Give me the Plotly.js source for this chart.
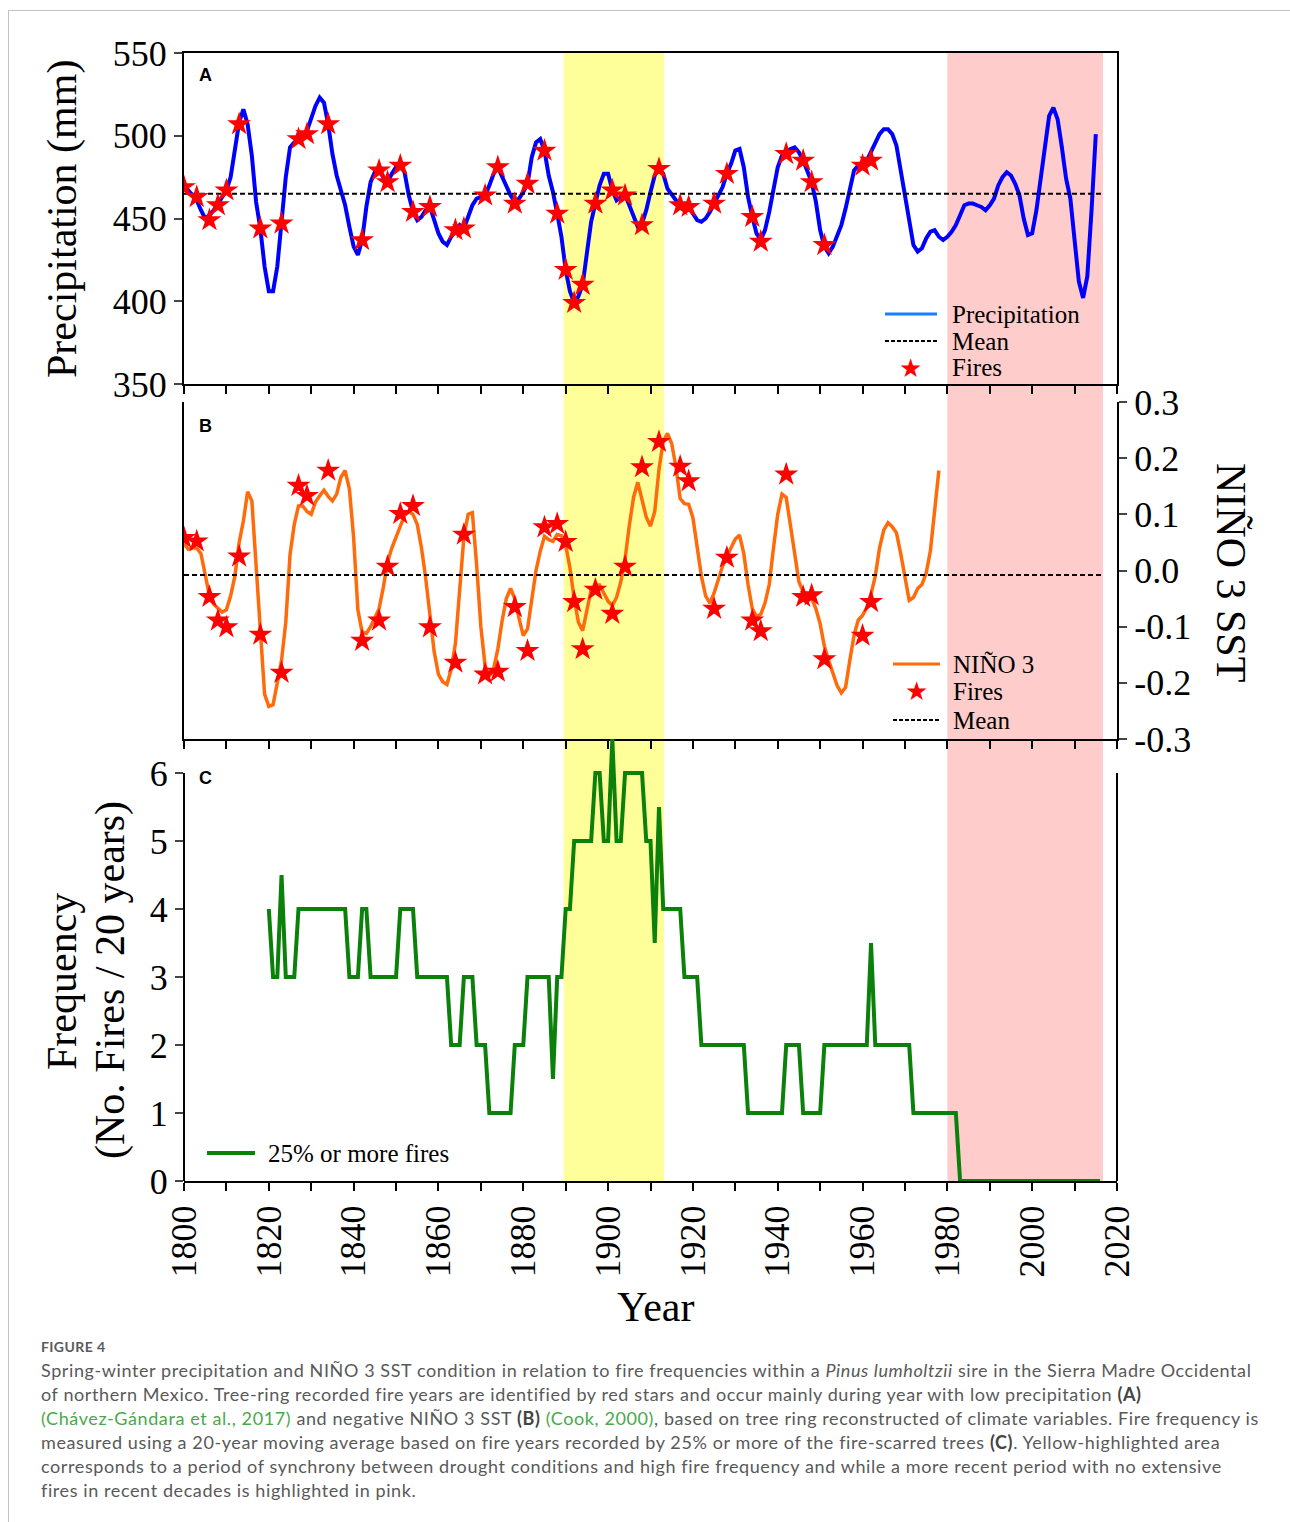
<!DOCTYPE html>
<html>
<head>
<meta charset="utf-8">
<script src="https://cdn.plot.ly/plotly-3.0.1.min.js"></script>
<style>
  body { margin:0; background:#fff; width:1290px; height:1522px; position:relative; overflow:hidden; }
  #frame { position:absolute; left:8px; top:10px; width:1290px; height:1530px; border-left:1px solid #c4c4c4; border-top:1px solid #c4c4c4; }
  #chart { position:absolute; left:0; top:0; width:1290px; height:1340px; }
  #cap { position:absolute; left:41px; top:1336px; font-family:Lato, "Noto Sans", sans-serif; color:#595959; white-space:nowrap; }
  #cap .fig { font-size:14px; font-weight:700; letter-spacing:0.4px; height:22px; line-height:22px; color:#5a5a5a; }
  #cap .txt { font-size:18px; line-height:24px; letter-spacing:0.6px; }
  #cap .g { color:#4aa84a; }
  #cap b { font-weight:700; color:#444; }
</style>
</head>
<body>
<div id="frame"></div>
<div id="chart"></div>
<div id="cap">
  <div class="fig">FIGURE 4</div>
  <div class="txt">
    Spring-winter precipitation and NIÑO 3 SST condition in relation to fire frequencies within a <i>Pinus lumholtzii</i> sire in the Sierra Madre Occidental<br>
    of northern Mexico. Tree-ring recorded fire years are identified by red stars and occur mainly during year with low precipitation <b>(A)</b><br>
    <span class="g">(Chávez-Gándara et al., 2017)</span> and negative NIÑO 3 SST <b>(B)</b> <span class="g">(Cook, 2000)</span>, based on tree ring reconstructed of climate variables. Fire frequency is<br>
    measured using a 20-year moving average based on fire years recorded by 25% or more of the fire-scarred trees <b>(C)</b>. Yellow-highlighted area<br>
    corresponds to a period of synchrony between drought conditions and high fire frequency and while a more recent period with no extensive<br>
    fires in recent decades is highlighted in pink.
  </div>
</div>
<script>
// ---------------- DATA ----------------
const precipStart = 1800;
const precipValues = [
  470,467,464,461,455,450,452,455,459,463,
  467,475,492,508,516,507,488,460,444,421,
  406,406,421,447,475,493,496,498,500,503,
  511,518,523,520,507,489,476,466,458,445,
  433,428,437,457,472,478,479,475,472,477,
  481,482,478,464,454,449,451,455,457,449,
  441,436,434,439,443,446,444,451,458,462,
  463,464,470,477,481,475,469,464,460,462,
  466,471,487,496,498,491,476,466,453,439,
  419,406,399,403,410,428,448,459,470,477,
  477,467,461,463,464,458,452,445,447,455,
  466,476,480,477,468,464,461,458,457,457,
  453,449,448,450,454,459,464,469,477,483,
  491,492,481,463,451,441,437,443,454,469,
  481,488,490,492,493,490,485,479,472,460,
  443,433,429,433,439,446,456,468,479,482,
  484,485,490,495,501,504,504,501,494,479,
  463,447,434,430,432,438,442,443,439,437,
  439,442,446,452,458,459,459,458,457,455,
  458,462,470,475,478,476,471,464,450,440,
  441,455,475,496,512,517,510,493,474,462,
  438,412,402,415,455,501
];
const precipMean = 465;

const ninoStart = 1800;
const ninoValues = [
  0.048,0.038,0.040,0.040,0.030,-0.010,-0.045,-0.060,-0.068,-0.074,
  -0.070,-0.045,-0.010,0.050,0.088,0.140,0.124,0.010,-0.110,-0.220,
  -0.242,-0.239,-0.200,-0.160,-0.092,0.028,0.082,0.115,0.115,0.105,
  0.100,0.122,0.133,0.143,0.132,0.124,0.136,0.166,0.178,0.145,
  0.058,-0.070,-0.110,-0.112,-0.100,-0.085,-0.068,-0.030,0.015,0.040,
  0.060,0.080,0.098,0.105,0.100,0.082,0.040,-0.014,-0.080,-0.145,
  -0.185,-0.198,-0.203,-0.176,-0.130,-0.040,0.060,0.100,0.103,0.010,
  -0.100,-0.170,-0.188,-0.175,-0.140,-0.090,-0.050,-0.032,-0.050,-0.085,
  -0.116,-0.104,-0.055,0.000,0.034,0.061,0.055,0.052,0.064,0.062,
  0.045,0.005,-0.050,-0.092,-0.107,-0.070,-0.035,-0.026,-0.026,-0.040,
  -0.055,-0.062,-0.048,-0.020,0.020,0.080,0.130,0.157,0.125,0.095,
  0.079,0.105,0.180,0.230,0.244,0.226,0.184,0.128,0.119,0.118,
  0.094,0.046,-0.010,-0.045,-0.058,-0.040,-0.015,0.008,0.025,0.042,
  0.056,0.063,0.030,-0.025,-0.068,-0.082,-0.078,-0.058,-0.025,0.040,
  0.100,0.136,0.130,0.080,0.030,-0.020,-0.038,-0.042,-0.050,-0.068,
  -0.095,-0.135,-0.160,-0.185,-0.205,-0.218,-0.208,-0.160,-0.115,-0.088,
  -0.080,-0.066,-0.042,-0.010,0.040,0.072,0.085,0.078,0.067,0.030,
  -0.010,-0.053,-0.048,-0.032,-0.025,-0.005,0.035,0.100,0.178
];
const ninoMean = -0.008;
const meanSpan = [1800, 2016.5];

const fireYears = [1800,1803,1806,1808,1810,1813,1818,1823,1827,1829,1834,1842,1846,1848,1851,1854,1858,1864,1866,1871,1874,1878,1881,1885,1888,1890,1892,1894,1897,1901,1904,1908,1912,1917,1919,1925,1928,1934,1936,1942,1946,1948,1951,1960,1962];
const firePrecip = [469,463,449,458,467,507,444,447,498,501,507,437,479,472,482,454,457,443,444,464,481,459,471,491,453,419,399,410,459,467,464,446,480,458,457,459,477,451,436,489,485,472,434,482,485];
const fireNino = [0.058,0.052,-0.047,-0.089,-0.101,0.025,-0.114,-0.182,0.151,0.133,0.178,-0.125,-0.089,0.007,0.101,0.115,-0.101,-0.164,0.064,-0.185,-0.180,-0.065,-0.143,0.077,0.083,0.051,-0.056,-0.140,-0.034,-0.077,0.007,0.184,0.229,0.185,0.159,-0.068,0.023,-0.089,-0.108,0.171,-0.047,-0.044,-0.158,-0.116,-0.056];

const freqStart = 1820;
const freqValues = [
  4,3,3,4.5,3,3,3,4,4,4,
  4,4,4,4,4,4,4,4,4,3,
  3,3,4,4,3,3,3,3,3,3,
  3,4,4,4,4,3,3,3,3,3,
  3,3,3,2,2,2,3,3,3,2,
  2,2,1,1,1,1,1,1,2,2,
  2,3,3,3,3,3,3,1.5,3,3,
  4,4,5,5,5,5,5,6,6,5,
  5,6.5,5,5,6,6,6,6,6,5,
  5,3.5,5.5,4,4,4,4,4,3,3,
  3,3,2,2,2,2,2,2,2,2,
  2,2,2,1,1,1,1,1,1,1,
  1,1,2,2,2,2,1,1,1,1,
  1,2,2,2,2,2,2,2,2,2,
  2,2,3.5,2,2,2,2,2,2,2,
  2,2,1,1,1,1,1,1,1,1,
  1,1,1,0,0,0,0,0,0,0,
  0,0,0,0,0,0,0,0,0,0,
  0,0,0,0,0,0,0,0,0,0,
  0,0,0,0,0,0,0
];

const highlightYellow = [1889.5, 1913.2];
const highlightPink = [1980, 2016.7];

const xTickYears = [1800,1810,1820,1830,1840,1850,1860,1870,1880,1890,1900,1910,1920,1930,1940,1950,1960,1970,1980,1990,2000,2010,2020];
const xTickLabels = ['1800','','1820','','1840','','1860','','1880','','1900','','1920','','1940','','1960','','1980','','2000','','2020'];
const precipTicks = [350,400,450,500,550];
const ninoTicks = [-0.3,-0.2,-0.1,0,0.1,0.2,0.3];
const ninoTickLabels = ['-0.3','-0.2','-0.1','0.0','0.1','0.2','0.3'];
const freqTicks = [0,1,2,3,4,5,6];

// ---------------- BUILD ----------------
const yearsFrom = (start, arr) => arr.map((_, i) => start + i);
const precipYears = yearsFrom(precipStart, precipValues);
const ninoYears = yearsFrom(ninoStart, ninoValues);
const freqYears = yearsFrom(freqStart, freqValues);

const SERIF = 'Liberation Serif, Times New Roman, serif';
const SANS = 'Liberation Sans, Arial, sans-serif';
const L = 184, R = 1117, T = 53, B = 1181, W = 1290, H = 1340;
const fx = x => (x - L) / (R - L);
const fy = y => (B - y) / (B - T);

const BLUE = '#0000ff', ORANGE = '#ff6a0a', GREEN = '#0b800b', RED = '#ff0000';

const traces = [
  {x: precipYears, y: precipValues, xaxis:'x', yaxis:'y', mode:'lines', line:{color:BLUE, width:4}, hoverinfo:'skip'},
  {x: meanSpan, y: [precipMean, precipMean], xaxis:'x', yaxis:'y', mode:'lines', line:{color:'#000', width:2, dash:'5px,3px'}, hoverinfo:'skip'},
  {x: fireYears, y: firePrecip, xaxis:'x', yaxis:'y', mode:'markers', marker:{symbol:'star', size:18, color:RED, line:{width:0}}, hoverinfo:'skip'},
  {x: ninoYears, y: ninoValues, xaxis:'x2', yaxis:'y2', mode:'lines', line:{color:ORANGE, width:3.5}, hoverinfo:'skip'},
  {x: meanSpan, y: [ninoMean, ninoMean], xaxis:'x2', yaxis:'y2', mode:'lines', line:{color:'#000', width:2, dash:'5px,3px'}, hoverinfo:'skip'},
  {x: fireYears, y: fireNino, xaxis:'x2', yaxis:'y2', mode:'markers', marker:{symbol:'star', size:18, color:RED, line:{width:0}}, hoverinfo:'skip'},
  {x: freqYears, y: freqValues, xaxis:'x3', yaxis:'y3', mode:'lines', line:{color:GREEN, width:4}, hoverinfo:'skip'}
];

const xBase = {range:[1800,2020], tickvals:xTickYears, ticks:'outside', ticklen:8, tickwidth:2, tickcolor:'#000',
  showline:true, linewidth:2, linecolor:'#000', showgrid:false, zeroline:false, fixedrange:true};

const layout = {
  width: W, height: H,
  margin: {l:L, r:W-R, t:T, b:H-B, pad:0},
  paper_bgcolor:'rgba(0,0,0,0)', plot_bgcolor:'rgba(0,0,0,0)',
  showlegend:false,
  font:{family:SERIF, color:'#000'},
  xaxis: Object.assign({}, xBase, {anchor:'y', showticklabels:false, mirror:true}),
  xaxis2: Object.assign({}, xBase, {anchor:'y2', showticklabels:false}),
  xaxis3: Object.assign({}, xBase, {anchor:'y3', ticktext:xTickLabels, tickmode:'array', tickangle:-90,
      tickfont:{family:SERIF, size:36, color:'#000'}}),
  yaxis: {domain:[fy(384), 1], range:[350,550], tickvals:precipTicks, ticks:'outside', ticklen:8, tickwidth:2,
      showline:true, linewidth:2, linecolor:'#000', mirror:true, showgrid:false, zeroline:false,
      tickfont:{family:SERIF, size:36, color:'#000'}, anchor:'x', fixedrange:true},
  yaxis2: {domain:[fy(739), fy(402)], range:[-0.3,0.3], tickvals:ninoTicks, ticktext:ninoTickLabels, side:'right',
      ticks:'outside', ticklen:8, tickwidth:2, showline:true, linewidth:2, linecolor:'#000', mirror:true,
      showgrid:false, zeroline:false, tickfont:{family:SERIF, size:36, color:'#000'}, anchor:'x2', fixedrange:true},
  yaxis3: {domain:[0, fy(1181 - 6.52*68)], range:[0,6.52], tickvals:freqTicks, ticks:'outside', ticklen:8, tickwidth:2,
      showline:false, showgrid:false, zeroline:false, tickfont:{family:SERIF, size:36, color:'#000'}, anchor:'x3', fixedrange:true},
  shapes: [
    {type:'rect', xref:'x3', yref:'paper', x0:highlightYellow[0], x1:highlightYellow[1], y0:0, y1:1, fillcolor:'#ffff99', line:{width:0}, layer:'below'},
    {type:'rect', xref:'x3', yref:'paper', x0:highlightPink[0], x1:highlightPink[1], y0:0, y1:1, fillcolor:'#ffcccc', line:{width:0}, layer:'below'},
    {type:'line', xref:'paper', yref:'y3', x0:0, x1:0, y0:0, y1:6, line:{color:'#000', width:2}},
    {type:'line', xref:'paper', yref:'y3', x0:1, x1:1, y0:0, y1:6, line:{color:'#000', width:2}},
    // legend samples
    {type:'line', xref:'paper', yref:'paper', x0:fx(885), x1:fx(937), y0:fy(314), y1:fy(314), line:{color:'#1a7fff', width:3}},
    {type:'line', xref:'paper', yref:'paper', x0:fx(885), x1:fx(937), y0:fy(341), y1:fy(341), line:{color:'#000', width:2, dash:'4px,2px'}},
    {type:'line', xref:'paper', yref:'paper', x0:fx(893), x1:fx(940), y0:fy(664), y1:fy(664), line:{color:ORANGE, width:3}},
    {type:'line', xref:'paper', yref:'paper', x0:fx(893), x1:fx(940), y0:fy(720), y1:fy(720), line:{color:'#000', width:2, dash:'4px,2px'}},
    {type:'line', xref:'paper', yref:'paper', x0:fx(207), x1:fx(255), y0:fy(1153), y1:fy(1153), line:{color:GREEN, width:4}}
  ],
  annotations: []
};

function ann(text, x, y, opts) {
  layout.annotations.push(Object.assign({text:text, xref:'paper', yref:'paper', x:fx(x), y:fy(y), showarrow:false,
    xanchor:'center', yanchor:'middle', font:{family:SERIF, size:25, color:'#000'}}, opts || {}));
}
// panel letters
ann('<b>A</b>', 197, 75, {xanchor:'left', font:{family:SANS, size:18, color:'#000'}});
ann('<b>B</b>', 197, 426, {xanchor:'left', font:{family:SANS, size:18, color:'#000'}});
ann('<b>C</b>', 197, 778, {xanchor:'left', font:{family:SANS, size:18, color:'#000'}});
// axis titles
ann('Precipitation (mm)', 62, 219, {textangle:-90, font:{family:SERIF, size:42, color:'#000'}});
ann('Frequency', 62, 982, {textangle:-90, font:{family:SERIF, size:42, color:'#000'}});
ann('(No. Fires / 20 years)', 110, 980, {textangle:-90, font:{family:SERIF, size:42, color:'#000'}});
ann('NIÑO 3 SST', 1231, 572, {textangle:90, font:{family:SERIF, size:42, color:'#000'}});
ann('Year', 655, 1307, {font:{family:SERIF, size:42, color:'#000'}});
// legends
ann('Precipitation', 950, 314, {xanchor:'left'});
ann('Mean', 950, 341, {xanchor:'left'});
ann('Fires', 950, 367, {xanchor:'left'});
ann('★', 910, 368, {font:{family:'DejaVu Sans', size:26, color:RED}});
ann('NIÑO 3', 951, 664, {xanchor:'left'});
ann('Fires', 951, 691, {xanchor:'left'});
ann('Mean', 951, 720, {xanchor:'left'});
ann('★', 916, 691, {font:{family:'DejaVu Sans', size:26, color:RED}});
ann('25% or more fires', 266, 1153, {xanchor:'left'});

Plotly.newPlot('chart', traces, layout, {displayModeBar:false, staticPlot:true});
</script>
</body>
</html>
